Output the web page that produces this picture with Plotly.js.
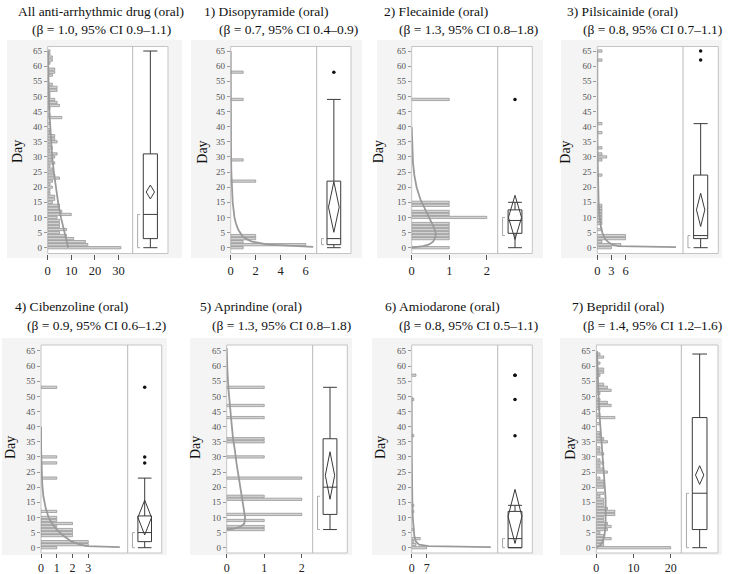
<!DOCTYPE html>
<html><head><meta charset="utf-8">
<script src="https://cdn.plot.ly/plotly-3.0.1.min.js"></script>
<style>html,body{margin:0;padding:0;background:#fff}</style>
</head><body><div id="chart" style="width:733px;height:574px"></div>
<script>
// ---------------- DATA ----------------
const panelTitles = ["All anti-arrhythmic drug (oral)", "1) Disopyramide (oral)", "2) Flecainide (oral)", "3) Pilsicainide (oral)",
  "4) Cibenzoline (oral)", "5) Aprindine (oral)", "6) Amiodarone (oral)", "7) Bepridil (oral)"];
const panelSubtitles = ["(β = 1.0, 95% CI 0.9–1.1)", "(β = 0.7, 95% CI 0.4–0.9)", "(β = 1.3, 95% CI 0.8–1.8)", "(β = 0.8, 95% CI 0.7–1.1)",
  "(β = 0.9, 95% CI 0.6–1.2)", "(β = 1.3, 95% CI 0.8–1.8)", "(β = 0.8, 95% CI 0.5–1.1)", "(β = 1.4, 95% CI 1.2–1.6)"];
const yAxisLabel = "Day";
const yTickVals = [0,5,10,15,20,25,30,35,40,45,50,55,60,65];
const xTickVals = [[0,10,20,30],[0,2,4,6],[0,1,2],[0,3,6],[0,1,2,3],[0,1,2],[0,7],[0,10,20]];

// histogram: day -> number of patients
const allDays = [0,1,2,3,4,5,6,7,8,9,10,11,12,13,14,15,16,17,18,19,20,21,22,23,24,25,26,27,28,29,30,31,32,33,34,35,36,37,38,39,40,41,42,43,44,45,46,47,48,49,50,51,52,53,54,55,56,57,58,59,60,61,62,63,64,65];
const allCounts = [31,17,16,11,8,5,8,5,5,5,4,10,6,5,5,2,3,3,1,1,2,1,2,5,3,2,2,1,3,2,3,4,1,2,1,4,3,3,1,1,0,1,0,6,1,0,1,5,4,3,1,1,4,4,2,0,0,2,3,3,0,1,2,2,1,1];
const disoDays = [0,1,2,3,4,22,29,49,58];
const disoCounts = [1,6,1,2,2,2,1,1,1];
const flecDays = [0,3,4,5,6,7,8,10,11,12,14,15,49];
const flecCounts = [1,1,1,1,1,1,1,2,1,1,1,1,1];
const pilsDays = [0,1,2,3,4,6,8,9,10,11,12,13,14,24,29,30,31,33,38,41,62,65];
const pilsCounts = [3,5,1,6,6,1,1,1,1,1,1,1,1,1,1,2,1,1,1,1,1,1];
const cibeDays = [0,1,2,4,5,6,7,8,9,10,12,23,28,30,53];
const cibeCounts = [1,3,3,2,2,2,1,2,1,1,1,1,1,1,1];
const aprDays = [6,7,9,11,16,17,23,30,35,36,43,47,53];
const aprCounts = [1,1,1,2,2,1,2,1,1,1,1,1,1];
const amioDays = [0,1,2,3,6,12,14,37,49,57];
const amioCounts = [7,2,1,4,1,1,1,1,1,2];
const bepDays = [0,1,2,3,4,5,6,7,8,9,10,11,12,13,14,15,16,17,18,19,20,21,22,23,24,25,26,27,28,29,30,31,32,33,34,35,36,37,38,39,40,41,42,43,44,45,46,47,48,49,50,51,52,53,54,55,56,57,58,59,60,61,62,63,64];
const bepCounts = [20,2,2,4,2,1,3,4,3,2,2,5,5,3,2,2,2,1,2,0,2,2,2,1,0,3,2,1,2,1,0,2,1,1,0,3,2,1,1,0,0,1,0,5,1,0,1,4,3,1,0,1,4,3,2,0,0,1,2,2,0,1,0,2,1];

// fitted Weibull curves
const allCurveDay = [0,5,10,15,20,25,30,35,40,45,50,55,60,65];
const allCurveVal = [8.7,7.0,5.6,4.4,3.4,2.6,1.9,1.4,1.0,0.7,0.5,0.35,0.2,0.1];
const disoCurveDay = [0.3,0.6,1,2,3,4,6,8,10,15,20,25,30,40,50,65];
const disoCurveVal = [6.6,4.4,3.0,1.7,1.2,0.9,0.6,0.42,0.3,0.16,0.09,0.05,0.03,0.01,0,0];
const flecCurveDay = [0,0.5,1,2,3.5,5,7,9,11.5,14,16,20,24,28,34,40];
const flecCurveVal = [0,0.3,0.45,0.57,0.63,0.64,0.58,0.5,0.4,0.3,0.23,0.13,0.07,0.035,0.01,0];
const pilsCurveDay = [0.2,0.5,1,2,3,5,7,10,15,20,30,40,50,65];
const pilsCurveVal = [16.7,4.5,3.2,2.2,1.6,1.05,0.75,0.5,0.28,0.18,0.07,0.03,0.01,0];
const cibeCurveDay = [0.2,0.55,1,2,4,6,8,10,13,17,21,26,32,40];
const cibeCurveVal = [5.0,2.9,2.5,1.95,1.4,1.0,0.7,0.48,0.3,0.15,0.08,0.04,0.01,0];
const aprCurveDay = [6,6.3,7,8,10,13,17,20,24,28,32,36,41,46,52,58,63,66];
const aprCurveVal = [0,0.2,0.38,0.47,0.49,0.45,0.4,0.36,0.3,0.26,0.22,0.17,0.13,0.09,0.05,0.02,0.005,0];
const amioCurveDay = [0.2,0.5,1,2,4,6,10,15,20,30,40,50];
const amioCurveVal = [37,8,3.5,2,1.2,0.9,0.5,0.3,0.15,0.05,0.02,0];
const bepCurveDay = [0,1,2,4,8,12,16,20,25,30,35,40,45,50,55,60,65];
const bepCurveVal = [0,1.2,1.7,2.2,2.5,2.6,2.5,2.3,2.0,1.6,1.3,1.0,0.8,0.6,0.45,0.3,0.2];

// box plot statistics per panel
const boxLow = [0,0,0,0,0,6,0,0];
const boxQ1 = [3,1,4.75,3,2,11,0,6];
const boxMedian = [11,3,9,4,5,20,3,18];
const boxQ3 = [31,22,12.5,24,10.5,36,12,43];
const boxHigh = [65,49,15,41,23,53,14,64];
const boxOutliers = [[],[58],[49],[62,65],[28,30,53],[],[37,49,57,57],[]];
const meanVal = [18.4,13.4,10,12.5,10,23.9,10.3,24];
const meanCILow = [16.1,5.1,2.75,7,4.2,16,1.4,20.9];
const meanCIHigh = [20.7,21.8,17.3,18,15.7,31.7,19.3,27.1];
const shortHalfLow = [0,1,4,0,0,6,0,0];
const shortHalfHigh = [11,3,10,4,5,17,3,18];

const histDays = [allDays,disoDays,flecDays,pilsDays,cibeDays,aprDays,amioDays,bepDays];
const histCounts = [allCounts,disoCounts,flecCounts,pilsCounts,cibeCounts,aprCounts,amioCounts,bepCounts];
const curveDays = [allCurveDay,disoCurveDay,flecCurveDay,pilsCurveDay,cibeCurveDay,aprCurveDay,amioCurveDay,bepCurveDay];
const curveVals = [allCurveVal,disoCurveVal,flecCurveVal,pilsCurveVal,cibeCurveVal,aprCurveVal,amioCurveVal,bepCurveVal];

// ---------------- LAYOUT / STYLE ----------------
const W = 733, H = 574;
// [left axis, divider, right, top, bottom] in pixels
const geom = [
  [47.7,132.7,168.0,46.5,253.5],[230.7,316.7,351.0,46.5,253.5],[411.7,497.7,532.3,46.5,253.5],[597.3,683.0,718.3,46.5,253.5],
  [41.0,127.7,161.7,345,553],[226.7,312.7,347.3,345,553],[411.7,497.7,532.3,345,553],[596.3,681.3,718.0,345,553]];
const bgBox = [[7,182,40,258],[191,362,40,258],[377,543,40,258],[561,722,40,258],
  [2,167,338,555],[190,352,338,555],[372,543,338,555],[560,722,338,555]];
const xMax = [36,6.88,2.29,18.2,5.5,2.29,40.2,22.85];
const yRangeTop = [-1.92,66.49], yRangeBottom = [-1.75,66.98];
const diamondHalf = [0.118,0.156,0.19,0.118,0.2,0.135,0.2,0.113];
const t1x = [16,201.7,381.7,564.7,12.7,197.7,383.3,569.7];
const t2x = [30,216.7,396.7,581.3,25,210,396.7,581.3];
const dayX = [17,201.7,378.3,564.7,10,195,380,569.7];
const serif = "Liberation Serif, Times New Roman, serif";

const px = v => v / W, py = v => 1 - v / H;
const traces = [], shapes = [], annotations = [];
const layout = {width: W, height: H, margin: {l:0,r:0,t:0,b:0}, paper_bgcolor:'#fff', plot_bgcolor:'rgba(0,0,0,0)',
  showlegend: false, font: {family: serif}};

for (let i = 0; i < 8; i++) {
  const [L, D, R, T, B] = geom[i];
  const top = i < 4;
  const hx = 2*i + 1, bx = 2*i + 2, yy = i + 1;
  const hxName = hx === 1 ? 'x' : 'x' + hx, bxName = 'x' + bx, yName = yy === 1 ? 'y' : 'y' + yy;
  const hxKey = hx === 1 ? 'xaxis' : 'xaxis' + hx, bxKey = 'xaxis' + bx, yKey = yy === 1 ? 'yaxis' : 'yaxis' + yy;
  layout[hxKey] = {domain:[px(L), px(D)], anchor: yName, range:[0, xMax[i]], tickvals: xTickVals[i], ticks:'outside',
    ticklen: top ? 5 : 4, tickcolor:'#555', showgrid:false, zeroline:false, showline:false, fixedrange:true,
    tickfont:{family: serif, size: top ? 12.5 : 12, color:'#222'}};
  layout[bxKey] = {domain:[px(D), px(R)], anchor: yName, range:[0,1], visible:false, fixedrange:true};
  layout[yKey] = {domain:[py(B), py(T)], anchor: hxName, range: top ? yRangeTop : yRangeBottom, tickvals: yTickVals,
    ticks:'outside', ticklen:3, tickcolor:'#999', showgrid:false, zeroline:false, showline:false, fixedrange:true,
    tickfont:{family: serif, size: 9, color:'#555'}};

  // background and frame
  const [bl, br, bt, bb] = bgBox[i];
  shapes.push({type:'rect', xref:'paper', yref:'paper', x0:px(bl), x1:px(br), y0:py(bb), y1:py(bt), fillcolor:'#f4f4f4', line:{width:0}, layer:'below'});
  shapes.push({type:'rect', xref:'paper', yref:'paper', x0:px(L), x1:px(R), y0:py(B), y1:py(T), fillcolor:'#fff', line:{color:'#c4c4c4', width:1}, layer:'below'});
  shapes.push({type:'line', xref:'paper', yref:'paper', x0:px(D), x1:px(D), y0:py(B), y1:py(T), line:{color:'#b8b8b8', width:1}, layer:'below'});

  // histogram
  traces.push({type:'bar', orientation:'h', x: histCounts[i], y: histDays[i], width:0.75, xaxis: hxName, yaxis: yName,
    marker:{color:'#d2d2d2', line:{color:'#8c8c8c', width:0.7}}, hoverinfo:'skip'});
  // fitted curve
  traces.push({type:'scatter', mode:'lines', x: curveVals[i], y: curveDays[i], xaxis: hxName, yaxis: yName,
    line:{color:'#9a9a9a', width:1.8}, hoverinfo:'skip'});
  // box plot
  traces.push({type:'box', orientation:'v', x:[0.5], q1:[boxQ1[i]], median:[boxMedian[i]], q3:[boxQ3[i]],
    lowerfence:[boxLow[i]], upperfence:[boxHigh[i]], width:0.4, whiskerwidth:1, boxpoints:false,
    line:{color:'#3a3a3a', width:1}, fillcolor:'rgba(255,255,255,0)', xaxis: bxName, yaxis: yName, hoverinfo:'skip'});
  // outliers
  if (boxOutliers[i].length) {
    traces.push({type:'scatter', mode:'markers', x: boxOutliers[i].map(() => 0.5), y: boxOutliers[i], xaxis: bxName, yaxis: yName,
      marker:{color:'#111', size:3.5}, hoverinfo:'skip'});
  }
  // mean confidence diamond
  const hw = diamondHalf[i];
  traces.push({type:'scatter', mode:'lines', x:[0.5, 0.5+hw, 0.5, 0.5-hw, 0.5],
    y:[meanCIHigh[i], meanVal[i], meanCILow[i], meanVal[i], meanCIHigh[i]], xaxis: bxName, yaxis: yName,
    line:{color:'#3a3a3a', width:1}, hoverinfo:'skip'});
  // shortest half bracket
  traces.push({type:'scatter', mode:'lines', x:[0.21, 0.14, 0.14, 0.21],
    y:[shortHalfLow[i], shortHalfLow[i], shortHalfHigh[i], shortHalfHigh[i]], xaxis: bxName, yaxis: yName,
    line:{color:'#a8a8a8', width:1}, hoverinfo:'skip'});

  // titles
  const y1 = top ? 11.5 : 306.7, y2 = top ? 29.5 : 325.7;
  annotations.push({xref:'paper', yref:'paper', x:px(t1x[i]), y:py(y1), xanchor:'left', yanchor:'middle', showarrow:false,
    text: panelTitles[i], font:{family: serif, size:13.5, color:'#111'}});
  annotations.push({xref:'paper', yref:'paper', x:px(t2x[i]), y:py(y2), xanchor:'left', yanchor:'middle', showarrow:false,
    text: panelSubtitles[i], font:{family: serif, size:13.5, color:'#111'}});
  annotations.push({xref:'paper', yref:'paper', x:px(dayX[i]), y:py(top ? 152 : 448), xanchor:'center', yanchor:'middle',
    showarrow:false, textangle:-90, text: yAxisLabel, font:{family: serif, size:14, color:'#111'}});
}
layout.shapes = shapes;
layout.annotations = annotations;
Plotly.newPlot('chart', traces, layout, {staticPlot:true, displayModeBar:false});
</script>
</body></html>
